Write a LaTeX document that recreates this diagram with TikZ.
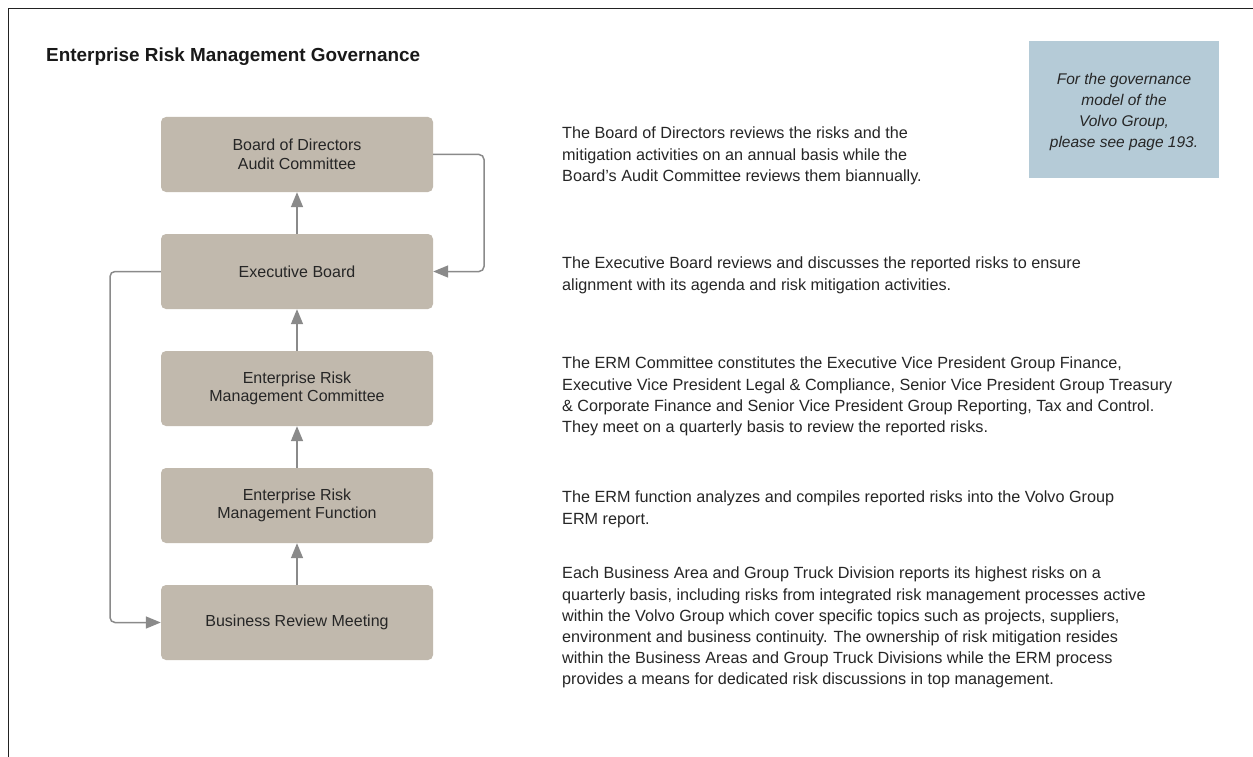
\documentclass[tikz,border=0pt]{standalone}
\usepackage{fontspec}
\setmainfont{Liberation Sans}
\usetikzlibrary{arrows.meta}
\definecolor{boxfill}{RGB}{193,185,173}
\definecolor{bluefill}{RGB}{181,203,215}
\definecolor{arrowgray}{RGB}{138,138,138}
\definecolor{textdark}{RGB}{38,38,38}
\definecolor{framegray}{RGB}{34,34,34}
\begin{document}
\begin{tikzpicture}[x=1pt,y=-1pt,
  ermbox/.style={fill=boxfill, rounded corners=5pt, minimum width=272pt, minimum height=75pt, inner sep=0pt, align=center, font=\fontsize{16}{18.5}\selectfont, text=textdark},
  desc/.style={anchor=north west, inner sep=0pt, align=left, font=\fontsize{16.2}{21.2}\selectfont, text=textdark},
  flow/.style={draw=arrowgray, line width=1.5pt, -{Triangle[length=15pt,width=12pt]}},
  loopflow/.style={flow, rounded corners=5pt}]
\useasboundingbox (0,0) rectangle (1253,757);
\fill[white] (0,0) rectangle (1253,757);
% frame
\draw[framegray, line width=1.2pt] (8.5,757) -- (8.5,8.5) -- (1253,8.5);
% title
\node[anchor=base west, inner sep=0pt, font=\fontsize{18.9}{21}\selectfont\bfseries, text=black!90] (title) at (46,61.5) {Enterprise Risk Management Governance};
% note box
\node[fill=bluefill, minimum width=190pt, minimum height=137pt, inner sep=0pt] (note) at (1124,109.5) {};
\node[inner sep=0pt, align=center, font=\fontsize{15.5}{21}\selectfont\itshape, text=textdark] (notetext) at (1124,111.5) {For the governance\\model of the\\Volvo Group,\\please see page 193.};
% boxes
\node[ermbox] (bod) at (297,154.5) {Board of Directors\\Audit Committee};
\node[ermbox] (eb) at (297,271.5) {Executive Board};
\node[ermbox] (ermc) at (297,388.5) {Enterprise Risk\\Management Committee};
\node[ermbox] (ermf) at (297,505.5) {Enterprise Risk\\Management Function};
\node[ermbox] (brm) at (297,622.5) {Business Review Meeting};
% vertical arrows
\draw[flow] (eb.north) -- (bod.south);
\draw[flow] (ermc.north) -- (eb.south);
\draw[flow] (ermf.north) -- (ermc.south);
\draw[flow] (brm.north) -- (ermf.south);
% loops
\coordinate (rtop) at (484,154.5);
\coordinate (rbot) at (484,271.5);
\coordinate (ltop) at (110,271.5);
\coordinate (lbot) at (110,622.5);
\draw[loopflow] (bod.east) -- (rtop) -- (rbot) -- (eb.east);
\draw[loopflow] (eb.west) -- (ltop) -- (lbot) -- (brm.west);
% descriptions
\node[desc] (d1) at (562,127) {The Board of Directors reviews the risks and the\\mitigation activities on an annual basis while the\\Board’s Audit Committee reviews them biannually.};
\node[desc] (d2) at (562,257) {The Executive Board reviews and discusses the reported risks to ensure\\alignment with its agenda and risk mitigation activities.};
\node[desc] (d3) at (562,357) {The ERM Committee constitutes the Executive Vice President Group Finance,\\Executive Vice President Legal \& Compliance, Senior Vice President Group Treasury\\\& Corporate Finance and Senior Vice President Group Reporting, Tax and Control.\\They meet on a quarterly basis to review the reported risks.};
\node[desc] (d4) at (562,491) {The ERM function analyzes and compiles reported risks into the Volvo Group\\ERM report.};
\node[desc] (d5) at (562,567) {Each Business Area and Group Truck Division reports its highest risks on a\\quarterly basis, including risks from integrated risk management processes active\\within the Volvo Group which cover specific topics such as projects, suppliers,\\environment and business continuity. The ownership of risk mitigation resides\\within the Business Areas and Group Truck Divisions while the ERM process\\provides a means for dedicated risk discussions in top management.};
\end{tikzpicture}
\end{document}
